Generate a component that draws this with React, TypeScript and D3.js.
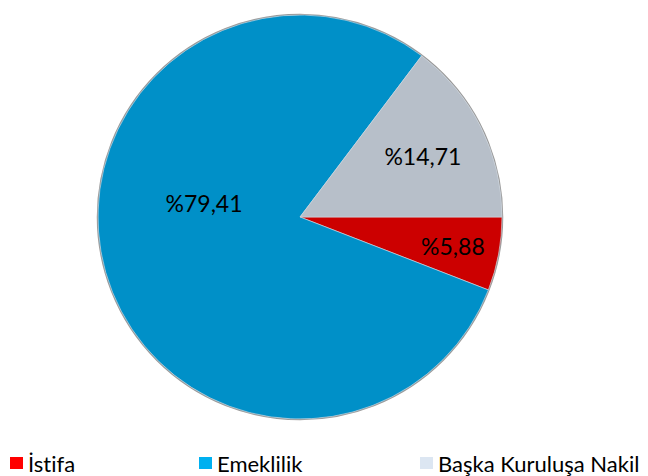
import React from "react";
import * as d3 from "d3";

// Data
const categories = ["İstifa", "Emeklilik", "Başka Kuruluşa Nakil"];
const values = [5.88, 79.41, 14.71];
const labels = ["%5,88", "%79,41", "%14,71"];
const sliceColors = ["#CC0000", "#0090C8", "#B7BFC9"];
const legendColors = ["#FF0000", "#00B0F0", "#DCE6F2"];
// label placement tweaks (radius fraction, angle shift in degrees)
const labelRadius = [0.77, 0.48, 0.68];
const labelShift = [0, 24, 0];

export default function App() {
  const width = 648;
  const height = 476;
  const cx = 300;
  const cy = 217;
  const r = 202;

  const pie = d3
    .pie<number>()
    .sort(null)
    .startAngle(Math.PI / 2)
    .endAngle(Math.PI / 2 + 2 * Math.PI);
  const arcs = pie(values);
  const arc = d3.arc<d3.PieArcDatum<number>>().innerRadius(0).outerRadius(r);

  const legendX = [10, 199, 420];

  return (
    <svg
      width={width}
      height={height}
      style={{ position: "absolute", left: 0, top: 0, fontVariantLigatures: "none" }}
      fontFamily="Lato, 'Open Sans', sans-serif"
    >
      <rect width={width} height={height} fill="#fff" />
      <g transform={`translate(${cx},${cy})`}>
        <circle r={r + 0.5} fill="none" stroke="#9a9a9a" strokeWidth={1.5} />
        {arcs.map((a, i) => (
          <path key={i} d={arc(a) || ""} fill={sliceColors[i]} stroke="#d0d8e0" strokeWidth={0.6} />
        ))}
        {arcs.map((a, i) => {
          const mid = (a.startAngle + a.endAngle) / 2 + (labelShift[i] * Math.PI) / 180;
          const rr = r * labelRadius[i];
          return (
            <text
              key={i}
              x={rr * Math.sin(mid)}
              y={-rr * Math.cos(mid)}
              textAnchor="middle"
              dominantBaseline="central"
              fontSize={23}
              fill="#000"
            >
              {labels[i]}
            </text>
          );
        })}
      </g>
      <g>
        {categories.map((c, i) => (
          <g key={c} transform={`translate(${legendX[i]},457)`}>
            <rect width={13} height={12} fill={legendColors[i]} />
            <text x={18} y={15} fontSize={22} fill="#000">
              {c}
            </text>
          </g>
        ))}
      </g>
    </svg>
  );
}
